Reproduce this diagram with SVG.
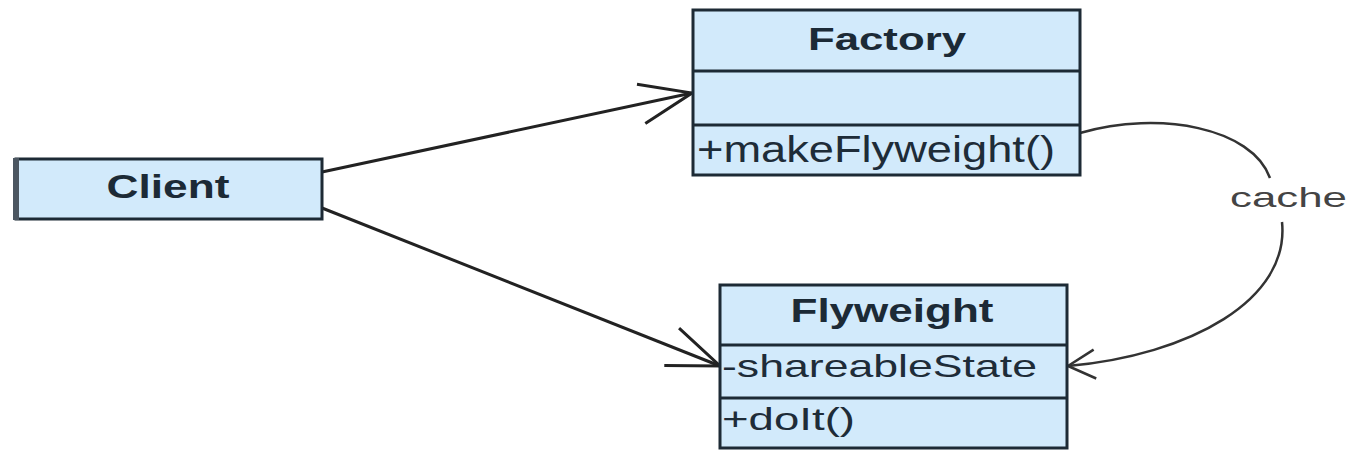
<svg xmlns="http://www.w3.org/2000/svg" width="1353" height="451" viewBox="0 0 1353 451">
  <defs>
    <style>
      .box { fill: #d2eafb; stroke: #1d2a35; stroke-width: 3; }
      .div { stroke: #1d2a35; stroke-width: 3; }
      .title { font-family: "Liberation Sans", Arial, sans-serif; font-weight: bold; fill: #1c2a36; text-anchor: middle; }
      .member { font-family: "Liberation Sans", Arial, sans-serif; fill: #1e2c38; }
      .edge { fill: none; stroke: #222; stroke-width: 3; }
      .assoc { fill: none; stroke: #333; stroke-width: 2.5; }
      .label { font-family: "Liberation Sans", Arial, sans-serif; fill: #444; }
    </style>
    <marker id="open-arrow" markerUnits="userSpaceOnUse" markerWidth="60" markerHeight="60" refX="0" refY="0" orient="auto" overflow="visible">
      <path d="M-52,-20 L0,0 L-52,20" fill="none" stroke="#222" stroke-width="3"/>
    </marker>
    <marker id="open-arrow-small" markerUnits="userSpaceOnUse" markerWidth="40" markerHeight="40" refX="0" refY="0" orient="auto" overflow="visible">
      <path d="M-27,-15 L0,0 L-27,14" fill="none" stroke="#333" stroke-width="2.5"/>
    </marker>
  </defs>

  <rect width="1353" height="451" fill="#ffffff"/>

  <!-- dependencies and the cache association -->
  <g id="connectors">
    <path class="edge" d="M322,172 L692,93" marker-end="url(#open-arrow)"/>
    <path class="edge" d="M322,208 L720,366" marker-end="url(#open-arrow)"/>
    <path class="assoc" d="M1080,133 C1160,110 1252,128 1270,178"/>
    <path class="assoc" d="M1282,222 C1290,300 1190,355 1068,366" marker-end="url(#open-arrow-small)"/>
    <text class="label" x="1230" y="207" font-size="28" textLength="117" lengthAdjust="spacingAndGlyphs">cache</text>
  </g>

  <!-- Client -->
  <g id="client">
    <rect class="box" x="16" y="159" width="306" height="60"/>
    <rect x="13" y="158" width="6" height="62" fill="#4b5661"/>
    <text class="title" x="168" y="198" font-size="33" textLength="123" lengthAdjust="spacingAndGlyphs">Client</text>
  </g>

  <!-- Factory -->
  <g id="factory">
    <rect class="box" x="693" y="10" width="387" height="165"/>
    <line class="div" x1="693" y1="71" x2="1080" y2="71"/>
    <line class="div" x1="693" y1="125" x2="1080" y2="125"/>
    <text class="title" x="887" y="50" font-size="31" textLength="158" lengthAdjust="spacingAndGlyphs">Factory</text>
    <text class="member" x="697" y="162" font-size="36" textLength="358" lengthAdjust="spacingAndGlyphs">+makeFlyweight()</text>
  </g>

  <!-- Flyweight -->
  <g id="flyweight">
    <rect class="box" x="720" y="285" width="347" height="163"/>
    <line class="div" x1="720" y1="345" x2="1067" y2="345"/>
    <line class="div" x1="720" y1="398" x2="1067" y2="398"/>
    <text class="title" x="892" y="322" font-size="34" textLength="203" lengthAdjust="spacingAndGlyphs">Flyweight</text>
    <text class="member" x="722" y="377" font-size="32" textLength="315" lengthAdjust="spacingAndGlyphs">-shareableState</text>
    <text class="member" x="722" y="430" font-size="31" textLength="133" lengthAdjust="spacingAndGlyphs">+doIt()</text>
  </g>
</svg>
